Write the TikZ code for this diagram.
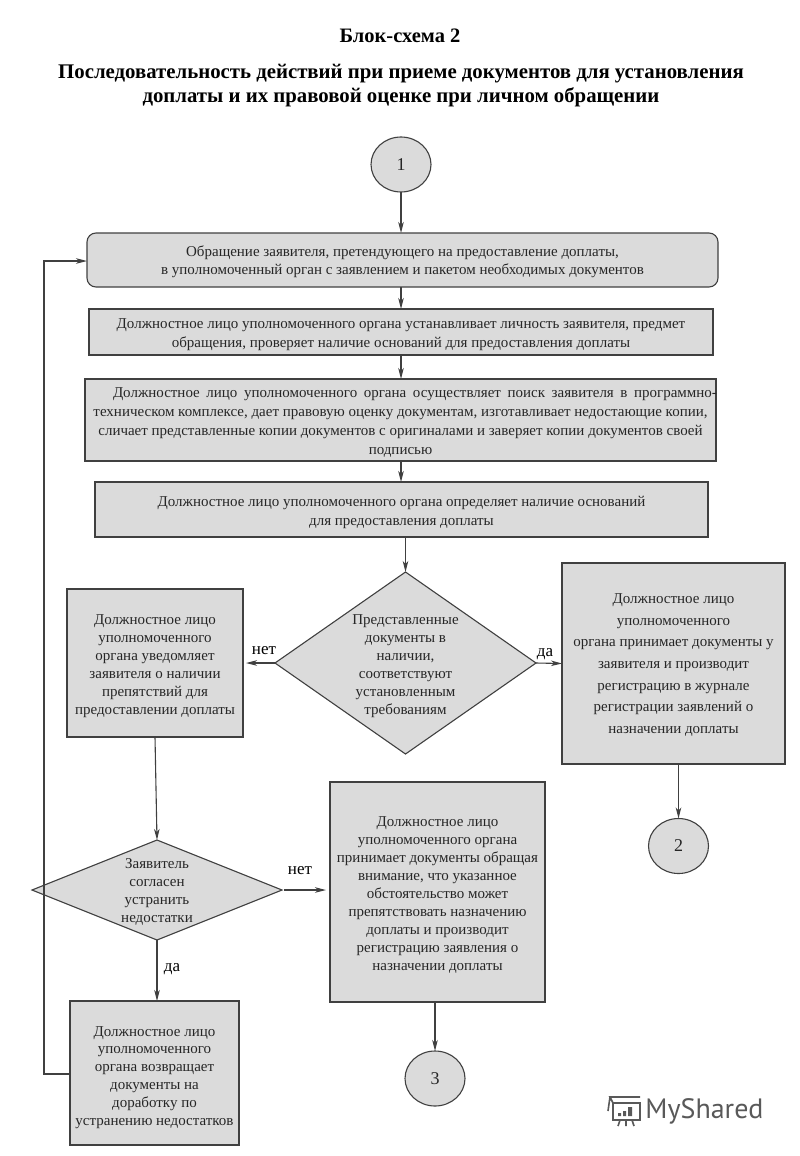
\documentclass[tikz,border=0pt]{standalone}
\usepackage{fontspec}
\setmainfont{Liberation Serif}
\newfontfamily\logofont{PT Sans}
\usetikzlibrary{arrows.meta,shapes.geometric}
\definecolor{boxgray}{gray}{0.86}
\definecolor{linegray}{gray}{0.25}
\definecolor{logogray}{gray}{0.35}
\tikzset{
  txt/.style={align=center,inner sep=0pt,text=black!85,font=\fontsize{15}{17.9}\selectfont},
  box/.style={draw=linegray,fill=boxgray,line width=1.1pt,outer sep=0pt,inner sep=0pt},
  rbox/.style={box,rounded corners=9pt},
  conn/.style={ellipse,box,text=black!85,minimum width=60pt,minimum height=55pt,font=\fontsize{18}{20}\selectfont},
  dia/.style={diamond,box},
  lbl/.style={inner sep=0pt,font=\fontsize{17}{19}\selectfont},
  arr/.style={-{Stealth[length=11pt,width=5.5pt,inset=3pt]},line width=1.1pt,draw=linegray}
}
\begin{document}
\begin{tikzpicture}[x=1pt,y=-1pt]
  \useasboundingbox (0,0) rectangle (800,1156);
  \node[inner sep=0pt,font=\bfseries\fontsize{20.5}{24}\selectfont] (title1) at (400,36) {Блок-схема 2};
  \node[inner sep=0pt,align=center,font=\bfseries\fontsize{20.8}{24}\selectfont] (title2) at (401,86)
    {Последовательность действий при приеме документов для установления\\доплаты и их правовой оценке при личном обращении};

  \node[conn] (c1) at (401,164.5) {1};
  \node[rbox,minimum width=631pt,minimum height=54pt] (boxa) at (402.5,260) {};
  \node[txt] (boxatext) at ([yshift=-2pt]boxa)
    {Обращение заявителя, претендующего на предоставление  доплаты,\\в уполномоченный орган с заявлением и пакетом необходимых документов};
  \node[box,minimum width=624pt,minimum height=46pt] (boxb) at (401,332) {};
  \node[txt,font=\fontsize{15}{19}\selectfont] (boxbtext) at ([yshift=-3pt]boxb)
    {Должностное лицо уполномоченного органа устанавливает личность заявителя, предмет\\обращения, проверяет наличие оснований для предоставления доплаты};
  \node[box,minimum width=631pt,minimum height=82pt] (boxc) at (400.5,420) {};
  \node[txt,font=\fontsize{15}{19}\selectfont] (boxctext) at ([yshift=-3pt]boxc)
    {\makebox[560pt]{\hspace{29pt}\makebox[604pt][s]{Должностное лицо уполномоченного органа осуществляет поиск заявителя в программно-}}\\техническом комплексе,  дает правовую оценку документам, изготавливает недостающие копии,\\сличает представленные копии документов с оригиналами и заверяет копии документов своей\\подписью};
  \node[box,minimum width=613pt,minimum height=55pt] (boxd) at (401.5,509.5) {};
  \node[txt,font=\fontsize{15}{19}\selectfont] (boxdtext) at ([yshift=-3pt]boxd)
    {Должностное лицо уполномоченного органа определяет наличие оснований\\для предоставления  доплаты};

  \node[dia,minimum width=261pt,minimum height=182pt] (dia1) at (405.5,663) {};
  \node[txt] (dia1text) at ([yshift=-3pt]dia1)
    {Представленные\\документы в\\наличии,\\соответствуют\\установленным\\требованиям};
  \node[box,minimum width=176pt,minimum height=148pt] (boxno) at (155,663) {};
  \node[txt] (boxnotext) at ([yshift=-3pt]boxno)
    {Должностное лицо\\уполномоченного\\органа уведомляет\\заявителя о наличии\\препятствий для\\предоставлении доплаты};
  \node[box,minimum width=223pt,minimum height=201pt] (boxyes) at (673.5,663.5) {};
  \node[txt,font=\fontsize{15}{21.6}\selectfont] (boxyestext) at ([yshift=-1.5pt]boxyes)
    {Должностное лицо\\уполномоченного\\органа принимает документы у\\заявителя и производит\\регистрацию в журнале\\регистрации заявлений о\\назначении  доплаты};
  \node[conn] (c2) at (678.5,846) {2};

  \node[dia,minimum width=250pt,minimum height=100pt] (dia2) at (157,890) {};
  \node[txt] (dia2text) at ([yshift=-2pt]dia2) {Заявитель\\согласен\\устранить\\недостатки};
  \node[box,minimum width=215pt,minimum height=220pt] (boxmid) at (437.5,892) {};
  \node[txt,font=\fontsize{15}{18}\selectfont] (boxmidtext) at ([yshift=-3pt]boxmid)
    {Должностное лицо\\уполномоченного органа\\принимает документы  обращая\\внимание, что указанное\\обстоятельство может\\препятствовать назначению\\доплаты и производит\\регистрацию заявления о\\назначении доплаты};
  \node[conn] (c3) at (435,1078.5) {3};
  \node[box,minimum width=169pt,minimum height=144pt] (boxback) at (154.5,1073) {};
  \node[txt] (boxbacktext) at ([yshift=-4.5pt]boxback)
    {Должностное лицо\\уполномоченного\\органа возвращает\\документы на\\доработку по\\устранению недостатков};

  \coordinate (noout) at (284,890);
  \coordinate (midin) at (326,890);
  \coordinate (noend) at (246,663);
  \coordinate (loopa) at (44,1074);
  \coordinate (loopb) at (44,261);
  \coordinate (backout) at (70,1074);
  \coordinate (boxain) at (87,261);

  \draw[arr] (c1.south) -- (c1.south |- boxa.north);
  \draw[arr] (boxa.south -| c1) -- (boxb.north -| c1);
  \draw[arr] (boxb.south -| c1) -- (boxc.north -| c1);
  \draw[arr] (boxc.south -| c1) -- (boxd.north -| c1);
  \draw[arr] (boxd.south -| dia1) -- (dia1.north);
  \draw[arr] (dia1.west) -- (noend);
  \draw[arr] (dia1.east) -- (boxyes.west);
  \draw[arr] (boxno.south) -- (dia2.north);
  \draw[arr] (noout) -- (midin);
  \draw[arr] (dia2.south) -- (dia2.south |- boxback.north);
  \draw[arr] (boxyes.south -| c2) -- (c2.north);
  \draw[arr] (boxmid.south -| c3) -- (c3.north);
  \draw[arr] (backout) -- (loopa) -- (loopb) -- (boxain);

  \node[lbl] (no1) at (264,651) {нет};
  \node[lbl] (yes1) at (545,654) {да};
  \node[lbl] (no2) at (300,871) {нет};
  \node[lbl] (yes2) at (172,969) {да};

  \draw[logogray,line width=1.6pt] (613,1103) rectangle (640,1120);
  \draw[logogray,line width=1.6pt] (613,1103) -- (610,1097) -- (640,1097) (610,1097) -- (608,1111);
  \draw[logogray,line width=1.6pt] (620,1120) -- (618,1126) (626,1120) -- (626,1126) (632,1120) -- (634,1126);
  \fill[logogray] (618,1113) rectangle (621,1116) (623,1111) rectangle (626,1116) (628,1107) rectangle (632,1116);
  \node[inner sep=0pt,text=logogray,font=\logofont\fontsize{28}{30}\selectfont] (logo) at (704.5,1111) {MyShared};
\end{tikzpicture}
\end{document}
